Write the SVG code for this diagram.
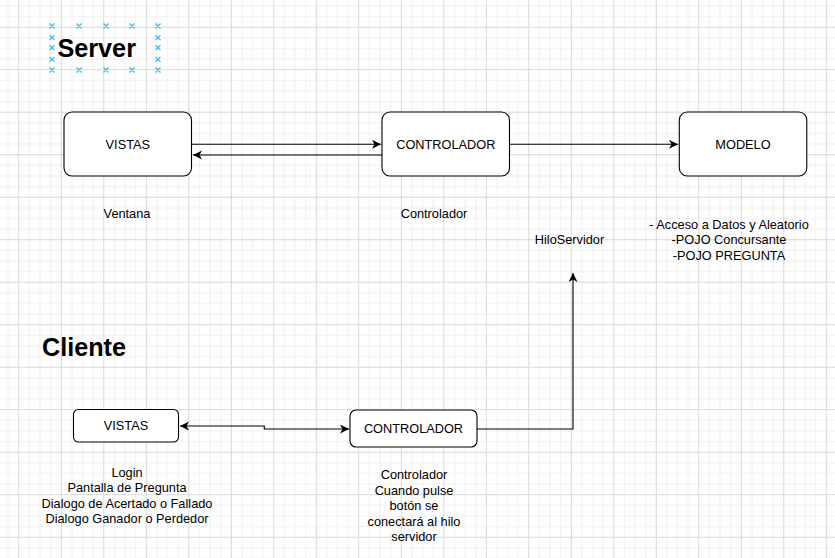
<svg xmlns="http://www.w3.org/2000/svg" width="835" height="558" viewBox="0 0 835 558">
<style>
.box{fill:#fff;stroke:#000;stroke-width:1.1}
.t{font-family:"Liberation Sans",Arial,Helvetica,sans-serif;font-size:12.75px;fill:#000;text-anchor:middle}
.h{font-family:"Liberation Sans",Arial,Helvetica,sans-serif;font-size:25.2px;font-weight:bold;fill:#000}
.c{fill:none;stroke:#000;stroke-width:1.1}
.x{stroke:#29b6f2;stroke-width:1.2;fill:none}
</style>
<defs>
<pattern id="grid" patternUnits="userSpaceOnUse" x="18.3" y="26.7" width="42.5" height="42.5">
<rect x="10.625" y="0" width="1" height="42.5" fill="#f0f0f0"/>
<rect x="21.25" y="0" width="1" height="42.5" fill="#f0f0f0"/>
<rect x="31.875" y="0" width="1" height="42.5" fill="#f0f0f0"/>
<rect x="0" y="10.625" width="42.5" height="1" fill="#f0f0f0"/>
<rect x="0" y="21.25" width="42.5" height="1" fill="#f0f0f0"/>
<rect x="0" y="31.875" width="42.5" height="1" fill="#f0f0f0"/>
<rect x="0" y="0" width="1" height="42.5" fill="#d8d8d8"/>
<rect x="0" y="0" width="42.5" height="1" fill="#d8d8d8"/>
</pattern>
<marker id="arr" markerUnits="userSpaceOnUse" markerWidth="12" markerHeight="10" refX="9" refY="4.5" orient="auto-start-reverse" viewBox="0 0 12 10">
<path d="M0,0 L9,4.5 L0,9 L2.5,4.5 Z" fill="#000"/>
</marker>
</defs>
<rect x="0" y="0" width="835" height="558" fill="#fff"/>
<rect x="0" y="0" width="835" height="558" fill="url(#grid)"/>

<g id="server-title">
<text class="h" x="57.5" y="57">Server</text>
<g class="x">
<path d="M49.5,23.5l5,5m0,-5l-5,5M76.5,23.5l5,5m0,-5l-5,5M103.5,23.5l5,5m0,-5l-5,5M129.5,23.5l5,5m0,-5l-5,5M155.5,23.5l5,5m0,-5l-5,5"/>
<path d="M49.5,67.5l5,5m0,-5l-5,5M76.5,67.5l5,5m0,-5l-5,5M103.5,67.5l5,5m0,-5l-5,5M129.5,67.5l5,5m0,-5l-5,5M155.5,67.5l5,5m0,-5l-5,5"/>
<path d="M49.5,35.2l5,5m0,-5l-5,5M49.5,45.2l5,5m0,-5l-5,5M49.5,56.8l5,5m0,-5l-5,5"/>
<path d="M155.5,35.2l5,5m0,-5l-5,5M155.5,45.2l5,5m0,-5l-5,5M155.5,56.8l5,5m0,-5l-5,5"/>
</g>
</g>

<g id="connectors">
<path class="c" d="M192,144.3 H381" marker-end="url(#arr)"/>
<path class="c" d="M382,155 H193" marker-end="url(#arr)"/>
<path class="c" d="M510,144.3 H678" marker-end="url(#arr)"/>
<path class="c" d="M180,426 H264.3 V429 H349" marker-start="url(#arr)" marker-end="url(#arr)"/>
<path class="c" d="M477,429 H573 V273" marker-end="url(#arr)"/>
</g>

<g id="s-vistas">
<rect class="box" x="64" y="112" width="127.5" height="64" rx="8"/>
<text class="t" x="127.8" y="148.5">VISTAS</text>
</g>
<g id="s-controlador">
<rect class="box" x="382" y="112" width="127.5" height="64" rx="8"/>
<text class="t" x="445.8" y="148.5">CONTROLADOR</text>
</g>
<g id="s-modelo">
<rect class="box" x="679.3" y="112" width="127.5" height="64" rx="8"/>
<text class="t" x="743" y="148.5">MODELO</text>
</g>

<g id="l-ventana"><text class="t" x="127" y="217.5">Ventana</text></g>
<g id="l-controlador"><text class="t" x="434" y="217.5">Controlador</text></g>
<g id="l-hiloservidor"><text class="t" x="569.5" y="244.3">HiloServidor</text></g>
<g id="l-modelo">
<text class="t" x="729" y="228.5">- Acceso a Datos y Aleatorio</text>
<text class="t" x="729" y="244">-POJO Concursante</text>
<text class="t" x="729" y="259.5">-POJO PREGUNTA</text>
</g>

<g id="cliente-title"><text class="h" x="42" y="355.5">Cliente</text></g>

<g id="c-vistas">
<rect class="box" x="73.5" y="409.5" width="105" height="32.5" rx="5"/>
<text class="t" x="126" y="430">VISTAS</text>
</g>
<g id="c-controlador">
<rect class="box" x="350" y="410" width="127" height="37" rx="6"/>
<text class="t" x="413.5" y="432.5">CONTROLADOR</text>
</g>

<g id="l-vistas-cliente">
<text class="t" x="127" y="477">Login</text>
<text class="t" x="127" y="492.4">Pantalla de Pregunta</text>
<text class="t" x="127" y="507.8">Dialogo de Acertado o Fallado</text>
<text class="t" x="127" y="523.2">Dialogo Ganador o Perdedor</text>
</g>
<g id="l-controlador-cliente">
<text class="t" x="414" y="479">Controlador</text>
<text class="t" x="414" y="494.5">Cuando pulse</text>
<text class="t" x="414" y="510">botón se</text>
<text class="t" x="414" y="525.5">conectará al hilo</text>
<text class="t" x="414" y="541">servidor</text>
</g>
</svg>
